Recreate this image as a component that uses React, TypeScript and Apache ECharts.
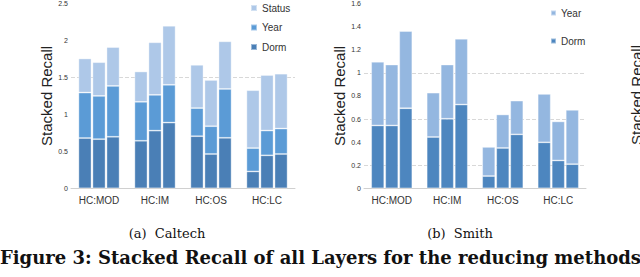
import { useEffect, useRef } from "react";
import * as echarts from "echarts";

const categories = ["HC:MOD", "HC:IM", "HC:OS", "HC:LC"];
const caltechTicks = [0, 0.5, 1, 1.5, 2, 2.5];
const smithTicks = [0, 0.2, 0.4, 0.6, 0.8, 1, 1.2, 1.4, 1.6];

// Caltech: one array per bar position (1st, 2nd, 3rd bar of each group), values per category
const caltechDorm = [
  [0.68, 0.643, 0.705, 0.228],
  [0.665, 0.78, 0.464, 0.446],
  [0.697, 0.889, 0.683, 0.464],
];
const caltechYear = [
  [0.615, 0.527, 0.38, 0.316],
  [0.585, 0.484, 0.376, 0.335],
  [0.688, 0.511, 0.661, 0.344],
];
const caltechStatus = [
  [0.461, 0.41, 0.585, 0.783],
  [0.456, 0.711, 0.625, 0.751],
  [0.525, 0.798, 0.644, 0.742],
];

// Smith
const smithDorm = [
  [0.544, 0.444, 0.106, 0.398],
  [0.544, 0.602, 0.349, 0.241],
  [0.693, 0.725, 0.467, 0.209],
];
const smithYear = [
  [0.551, 0.384, 0.252, 0.419],
  [0.527, 0.469, 0.29, 0.338],
  [0.668, 0.57, 0.292, 0.47],
];

const caltechGrid = [1.5];
const smithGrid = [0.2, 0.6, 1.0];

const SANS = "Liberation Sans, Arial, sans-serif";
const SERIF = "DejaVu Serif, serif";

const C_STATUS = "#aec8e8";
const C_YEAR = "#5b9bd6";
const C_DORM = "#4a7fb6";
const S_YEAR = "#94b7e0";
const S_DORM = "#4d86bf";

export default function App() {
  const ref = useRef<HTMLDivElement>(null);
  useEffect(() => {
    if (!ref.current) return;
    const chart = echarts.init(ref.current, undefined, { renderer: "svg" });

    const bar = (name: string, data: number[], color: string, stack: string, axis: number) => ({
      type: "bar",
      name,
      data,
      stack,
      xAxisIndex: axis,
      yAxisIndex: axis,
      barWidth: 13,
      barGap: "8%",
      z: 3,
      itemStyle: { color, borderColor: "rgba(255,255,255,0.45)", borderWidth: 0.8 },
      emphasis: { disabled: true },
    });

    const series: any[] = [];
    for (let j = 0; j < 3; j++) {
      series.push(bar("Dorm", caltechDorm[j], C_DORM, "c" + j, 0));
      series.push(bar("Year", caltechYear[j], C_YEAR, "c" + j, 0));
      series.push(bar("Status", caltechStatus[j], C_STATUS, "c" + j, 0));
    }
    for (let j = 0; j < 3; j++) {
      series.push(bar("Dorm2", smithDorm[j], S_DORM, "s" + j, 1));
      series.push(bar("Year2", smithYear[j], S_YEAR, "s" + j, 1));
    }
    const gridLines = (vals: number[], axis: number) => ({
      type: "line",
      data: [],
      xAxisIndex: axis,
      yAxisIndex: axis,
      z: 1,
      silent: true,
      markLine: {
        z: 1,
        symbol: "none",
        silent: true,
        label: { show: false },
        lineStyle: { color: "#d8d8d8", type: "dashed", width: 1 },
        data: vals.map((v) => ({ yAxis: v })),
      },
    });
    series.push(gridLines(caltechGrid, 0));
    series.push(gridLines(smithGrid, 1));

    const xAxis = (gi: number) => ({
      type: "category",
      gridIndex: gi,
      data: categories,
      axisLine: { show: true, lineStyle: { color: "#d0d0d0" } },
      axisTick: { show: false },
      axisLabel: { fontFamily: SANS, fontSize: 10, color: "#333", margin: 7 },
    });
    const yAxis = (gi: number, ticks: number[], gap: number) => ({
      type: "value",
      gridIndex: gi,
      min: ticks[0],
      max: ticks[ticks.length - 1],
      interval: ticks[1] - ticks[0],
      name: "Stacked Recall",
      nameLocation: "middle",
      nameGap: gap,
      nameTextStyle: { fontFamily: SANS, fontSize: 15, color: "#222" },
      axisLine: { show: false },
      axisTick: { show: false },
      splitLine: { show: false },
      axisLabel: { fontFamily: SANS, fontSize: 7, color: "#333", margin: 3 },
    });

    chart.setOption({
      animation: false,
      grid: [
        { left: 71, top: 1.8, width: 224, height: 186.5 },
        { left: 364, top: 2.2, width: 222, height: 186.1 },
      ],
      xAxis: [xAxis(0), xAxis(1)],
      yAxis: [yAxis(0, caltechTicks, 13), yAxis(1, smithTicks, 14)],
      legend: [
        {
          orient: "vertical",
          left: 250,
          top: 3,
          padding: 0,
          itemWidth: 6,
          itemHeight: 6,
          itemGap: 9.5,
          icon: "rect",
          data: ["Status", "Year", "Dorm"],
          textStyle: { fontFamily: SANS, fontSize: 10, color: "#333" },
          selectedMode: false,
        },
        {
          orient: "vertical",
          left: 550,
          top: 8,
          padding: 0,
          itemWidth: 5,
          itemHeight: 5,
          itemGap: 18,
          icon: "rect",
          data: ["Year2", "Dorm2"],
          formatter: (n: string) => n.replace("2", ""),
          textStyle: { fontFamily: SANS, fontSize: 10, color: "#333" },
          selectedMode: false,
        },
      ],
      graphic: [
        {
          type: "text",
          x: 636,
          y: 95,
          rotation: Math.PI / 2,
          style: { text: "Stacked Recall", font: "15px " + SANS, fill: "#222", align: "center", verticalAlign: "middle" },
        },
        {
          type: "text",
          x: 167,
          y: 233,
          style: { text: "(a)  Caltech", font: "13px " + SERIF, fill: "#111", align: "center", verticalAlign: "middle" },
        },
        {
          type: "text",
          x: 460,
          y: 233,
          style: { text: "(b)  Smith", font: "13px " + SERIF, fill: "#111", align: "center", verticalAlign: "middle" },
        },
        {
          type: "text",
          x: 0,
          y: 257,
          style: {
            text: "Figure 3: Stacked Recall of all Layers for the reducing methods",
            font: "bold 18px " + SERIF,
            fill: "#111",
            align: "left",
            verticalAlign: "middle",
          },
        },
      ],
      series,
    });
    return () => chart.dispose();
  }, []);
  return <div ref={ref} style={{ position: "absolute", left: 0, top: 0, width: 640, height: 277 }} />;
}
